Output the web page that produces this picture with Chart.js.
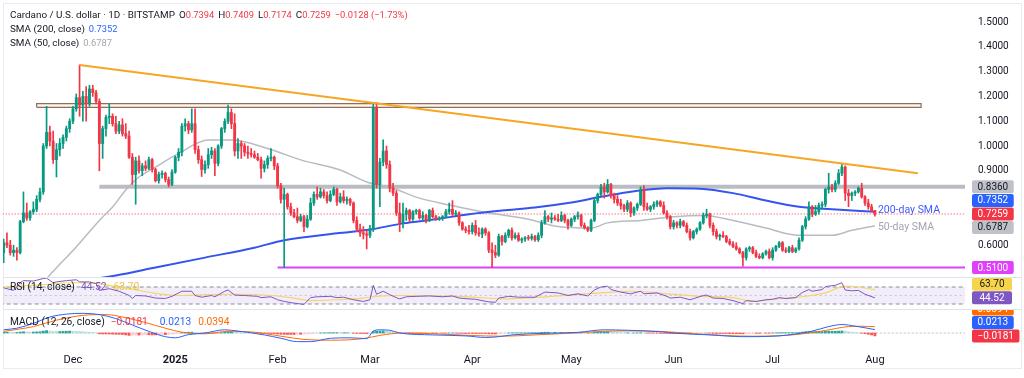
<!DOCTYPE html>
<html><head><meta charset="utf-8">
<script src="https://cdn.jsdelivr.net/npm/chart.js@4.4.1/dist/chart.umd.min.js"></script>
<style>
html,body{margin:0;padding:0;background:#fff;}
#wrap{position:relative;width:1024px;height:378px;overflow:hidden;background:#fff;font-family:Roboto,'Noto Sans',sans-serif;color:#131722;}
canvas{position:absolute;left:0;}
.lg{position:absolute;font-size:9.9px;white-space:nowrap;line-height:12px;}
.lg span{margin-left:4px;}
.lg .n{font-size:9.3px;}
.sep{position:absolute;left:3px;width:1018px;height:1px;background:#e0e3eb;}
.frame{position:absolute;left:3px;top:3px;width:1017px;height:364px;border:1px solid #e9ebf0;}
</style></head><body>
<div id="wrap">
  <div class="frame"></div>
  <canvas id="cPrice" width="1024" height="277" style="top:0"></canvas>
  <canvas id="cRsi" width="1024" height="32" style="top:277px"></canvas>
  <canvas id="cMacd" width="1024" height="69" style="top:309px"></canvas>
  <div class="sep" style="top:277px"></div>
  <div class="sep" style="top:309px"></div>
  <div class="lg" id="lg1" style="left:10px;top:9px"></div>
  <div class="lg" id="lg2" style="left:10px;top:23px"></div>
  <div class="lg" id="lg3" style="left:10px;top:37px"></div>
  <div class="lg" id="lgRsi" style="left:10px;top:281px;font-size:10.2px"></div>
  <div class="lg" id="lgMacd" style="left:10px;top:316px;font-size:10.2px"></div>
</div>
<script>
// ---------------- DATA ----------------
// day index: 0 = 2024-12-01 ; first candle = 2024-11-10
const firstDay = -21;
const opens = [
.570,.610,.600,.570,.580,.570,.695,.730,.710,.735,
.745,.785,.815,1.000,1.055,1.020,.945,.985,1.010,1.035,
1.070,1.100,1.150,1.195,1.165,1.200,1.170,1.230,1.215,1.180,
1.010,1.070,1.115,1.120,1.090,1.060,1.085,1.050,1.040,.955,
.885,.940,.900,.920,.910,.945,.905,.860,.885,.890,
.865,.845,.895,.955,.975,1.080,1.090,1.065,1.090,.985,
.945,.905,.925,.965,.980,.930,1.000,1.070,1.100,1.135,
1.090,.980,1.010,1.000,.975,.970,.965,.955,.945,.910,
.925,.950,.955,.920,.840,.785,.805,.755,.730,.715,
.700,.715,.675,.705,.770,.805,.795,.815,.800,.780,
.805,.825,.775,.795,.780,.785,.770,.700,.665,.650,
.645,.640,.665,1.155,.845,.935,.980,.925,.830,.810,
.730,.690,.725,.740,.705,.735,.740,.710,.720,.700,
.740,.715,.705,.710,.715,.735,.745,.725,.730,.690,
.665,.660,.655,.680,.650,.645,.665,.650,.580,.570,
.560,.635,.615,.640,.660,.630,.640,.620,.625,.630,
.628,.635,.622,.640,.690,.715,.705,.710,.705,.700,
.720,.700,.680,.705,.715,.720,.680,.670,.660,.700,
.780,.805,.835,.815,.845,.800,.785,.770,.760,.745,
.770,.730,.750,.765,.825,.755,.745,.755,.765,.775,
.760,.730,.715,.675,.690,.680,.695,.680,.655,.630,
.655,.665,.690,.720,.725,.680,.655,.635,.640,.635,
.615,.605,.595,.585,.570,.550,.585,.590,.570,.555,
.550,.565,.575,.550,.580,.595,.610,.580,.575,.590,
.575,.585,.620,.675,.705,.755,.725,.735,.760,.765,
.825,.835,.825,.850,.890,.915,.810,.800,.810,.815,
.830,.795,.770,.755,.7394];
const highs = [
.625,.650,.620,.600,.590,.700,.815,.770,.740,.775,
.800,.830,1.010,1.160,1.080,1.060,1.010,1.030,1.045,1.080,
1.110,1.160,1.210,1.327,1.220,1.240,1.245,1.245,1.225,1.190,
1.080,1.125,1.170,1.130,1.120,1.100,1.110,1.090,1.060,.970,
.955,.960,.930,.940,.955,.950,.910,.895,.900,.895,
.875,.905,.960,.990,1.090,1.110,1.100,1.150,1.150,1.000,
.960,.940,.990,.995,.990,1.005,1.075,1.110,1.165,1.150,
1.130,1.030,1.020,1.010,1.000,.990,.980,.970,.955,.940,
.960,.990,.960,.930,.850,.830,.810,.770,.745,.750,
.725,.720,.720,.790,.815,.835,.830,.825,.815,.820,
.835,.830,.810,.820,.795,.790,.775,.715,.685,.675,
.660,.680,1.175,1.175,.950,1.025,1.000,.940,.850,.820,
.770,.770,.750,.745,.740,.745,.745,.735,.725,.745,
.750,.720,.715,.720,.745,.770,.780,.740,.735,.695,
.675,.680,.690,.700,.670,.670,.670,.655,.610,.600,
.645,.640,.650,.665,.670,.650,.650,.630,.635,.640,
.645,.640,.650,.700,.740,.720,.730,.720,.725,.735,
.725,.705,.710,.720,.735,.725,.690,.675,.705,.790,
.810,.845,.850,.865,.850,.810,.800,.785,.765,.780,
.775,.755,.770,.835,.840,.770,.760,.775,.780,.780,
.775,.740,.720,.700,.695,.705,.700,.690,.665,.660,
.670,.695,.730,.745,.730,.690,.665,.645,.655,.640,
.625,.615,.610,.590,.575,.590,.595,.595,.580,.565,
.570,.580,.585,.590,.600,.615,.615,.590,.595,.600,
.590,.630,.680,.715,.775,.760,.760,.770,.775,.830,
.890,.845,.860,.905,.930,.920,.825,.815,.820,.835,
.850,.800,.785,.765,.7409];
const lows = [
.530,.590,.560,.555,.540,.565,.690,.700,.700,.725,
.735,.775,.805,.990,1.000,.930,.875,.960,.990,1.020,
1.055,1.090,1.140,1.120,1.100,1.100,1.160,1.200,1.170,.900,
.950,1.040,1.090,1.080,1.050,1.050,1.040,1.030,.950,.845,
.765,.890,.880,.900,.905,.895,.855,.850,.870,.855,
.835,.840,.890,.940,.960,1.060,1.050,1.055,.970,.930,
.877,.890,.910,.950,.880,.920,.990,1.055,1.090,1.070,
.960,.950,.950,.960,.950,.955,.950,.940,.870,.895,
.910,.940,.905,.830,.770,.510,.745,.720,.710,.690,
.695,.655,.670,.700,.760,.785,.790,.790,.770,.775,
.800,.760,.770,.770,.765,.760,.690,.655,.635,.625,
.585,.630,.655,.830,.755,.920,.910,.815,.800,.720,
.655,.670,.700,.695,.700,.725,.705,.700,.690,.695,
.710,.700,.700,.700,.710,.725,.720,.720,.680,.660,
.650,.645,.645,.640,.635,.630,.640,.570,.510,.550,
.555,.600,.610,.630,.620,.625,.615,.610,.615,.620,
.620,.615,.615,.630,.685,.695,.690,.700,.695,.695,
.690,.665,.675,.695,.705,.675,.665,.655,.655,.695,
.770,.800,.790,.810,.790,.770,.760,.745,.735,.735,
.715,.720,.740,.760,.740,.740,.735,.745,.755,.755,
.725,.705,.665,.665,.670,.670,.675,.650,.620,.625,
.645,.660,.685,.710,.670,.640,.625,.620,.630,.610,
.600,.590,.580,.565,.515,.540,.575,.565,.550,.545,
.545,.560,.545,.540,.575,.590,.575,.570,.570,.570,
.570,.580,.615,.665,.700,.715,.720,.725,.745,.755,
.810,.815,.815,.845,.880,.780,.755,.780,.800,.810,
.790,.760,.745,.735,.7174];
const closes = [
.610,.600,.570,.580,.570,.695,.730,.710,.735,.745,
.785,.815,1.000,1.055,1.020,.945,.985,1.010,1.035,1.070,
1.100,1.150,1.195,1.165,1.200,1.170,1.230,1.215,1.180,1.010,
1.070,1.115,1.120,1.090,1.060,1.085,1.050,1.040,.955,.885,
.940,.900,.920,.910,.945,.905,.860,.885,.890,.865,
.845,.895,.955,.975,1.080,1.090,1.065,1.090,.985,.945,
.905,.925,.965,.980,.930,1.000,1.070,1.100,1.135,1.090,
.980,1.010,1.000,.975,.970,.965,.955,.945,.910,.925,
.950,.955,.920,.840,.785,.805,.755,.730,.715,.700,
.715,.675,.705,.770,.805,.795,.815,.800,.780,.805,
.825,.775,.795,.780,.785,.770,.700,.665,.650,.645,
.640,.665,1.155,.845,.935,.980,.925,.830,.810,.730,
.690,.725,.740,.705,.735,.740,.710,.720,.700,.740,
.715,.705,.710,.715,.735,.745,.725,.730,.690,.665,
.660,.655,.680,.650,.645,.665,.650,.580,.570,.560,
.635,.615,.640,.660,.630,.640,.620,.625,.630,.628,
.635,.622,.640,.690,.715,.705,.710,.705,.700,.720,
.700,.680,.705,.715,.720,.680,.670,.660,.700,.780,
.805,.835,.815,.845,.800,.785,.770,.760,.745,.770,
.730,.750,.765,.825,.755,.745,.755,.765,.775,.760,
.730,.715,.675,.690,.680,.695,.680,.655,.630,.655,
.665,.690,.720,.725,.680,.655,.635,.640,.635,.615,
.605,.595,.585,.570,.550,.585,.590,.570,.555,.550,
.565,.575,.550,.580,.595,.610,.580,.575,.590,.575,
.585,.620,.675,.705,.755,.725,.735,.760,.765,.825,
.835,.825,.850,.890,.915,.810,.800,.810,.815,.830,
.795,.770,.755,.7387,.7259];
// MACD histogram, in thousandths, one per candle
const macdHist = [
4,5,4,3,3,6,8,7,6,6,7,8,
12,15,13,10,9,9,10,11,12,
11,10,9,8,6,5,4,2,-5,-6,-6,-6,-7,-8,-8,-9,-12,-15,-14,-13,-13,-12,-11,-11,-12,-12,-11,-10,-10,-9,-7,
-4,-2,2,4,5,5,3,1,0,0,1,1,-1,0,2,4,6,7,6,4,3,2,1,0,-1,-1,-3,-3,-3,-3,-4,
-6,-8,-9,-9,-9,-9,-8,-8,-7,-6,-4,-2,-1,0,1,1,2,2,2,1,1,1,0,-1,-2,-3,-3,-4,
-3,10,12,12,13,12,10,8,5,2,0,-1,-2,-3,-3,-3,-3,-3,-2,-2,-2,-1,-1,-1,0,0,-1,-2,-2,-3,-3,
-3,-3,-3,-3,-3,-5,-6,-6,-3,-2,-1,0,1,1,1,1,1,1,2,2,2,4,5,5,4,4,3,3,2,1,
1,1,1,1,0,-1,0,4,6,8,8,8,7,5,3,2,1,1,0,0,0,1,0,-1,-1,-1,-1,-2,-2,-3,-4,
-4,-4,-4,-4,-4,-5,-4,-3,-2,-1,0,-1,-2,-3,-3,-3,-3,-4,-4,-4,-4,-5,-4,-3,-2,-2,-2,-1,-1,-1,
0,1,2,2,2,2,2,2,3,6,8,9,9,9,9,9,10,11,11,11,12,13,12,8,5,3,1,-1,-4,-8,-12,-18.1];
// moving averages and oscillators: [day, value]
const sma200Pts = [[-21,.420],[0,.452],[13,.478],[25,.510],[40,.550],[55,.590],[64,.620],[80,.648],[90,.663],[100,.688],[110,.705],[120,.725],[130,.740],[140,.752],[150,.770],[160,.795],[170,.818],[180,.830],[190,.828],[200,.810],[210,.780],[220,.755],[230,.745],[243,.7352]];
const sma50Pts = [[-12,.400],[-7,.480],[1,.593],[8,.700],[12,.754],[16,.823],[20,.875],[25,.915],[32,.970],[41,1.024],[48,1.024],[59,.990],[69,.944],[81,.903],[89,.855],[97,.830],[104,.794],[114,.762],[124,.735],[138,.705],[147,.675],[157,.669],[162,.690],[172,.700],[182,.715],[191,.720],[200,.700],[210,.669],[220,.640],[230,.640],[236,.660],[243,.6787]];
const rsiPts = [[-21,68],[-18,62],[-16,80],[-15,85],[-12,84],[-9,90],[-8,91],[-6,80],[-5,82],[-2,85],[1,87],[2,82],[5,82],[7,78],[8,62],[11,66],[14,60],[17,50],[18,43],[19,50],[22,49],[25,44],[28,43],[30,48],[33,60],[36,60],[37,50],[39,46],[42,50],[43,47],[46,60],[47,63],[49,51],[52,50],[56,48],[57,45],[60,47],[62,40],[64,36],[67,32],[70,29],[72,45],[74,47],[78,48],[80,45],[82,46],[85,40],[88,36],[90,40],[91,74],[92,53],[94,60],[96,52],[98,45],[99,42],[101,47],[104,48],[108,49],[112,47],[115,49],[117,44],[120,42],[122,41],[126,35],[128,34],[129,44],[132,48],[135,46],[140,46],[142,54],[143,58],[147,56],[150,50],[153,54],[156,49],[158,63],[160,70],[162,72],[163,64],[166,58],[169,54],[172,60],[173,54],[177,56],[180,48],[181,44],[184,46],[187,40],[191,50],[192,51],[194,44],[197,43],[200,38],[203,31],[204,38],[207,36],[210,40],[212,41],[214,45],[216,43],[219,45],[221,57],[223,64],[224,60],[227,64],[228,71],[229,72],[231,74],[233,80],[234,63],[236,61],[238,62],[240,53],[243,44.52]];
const rsiMaPts = [[-21,70],[-10,75],[0,80],[8,78],[12,72],[18,65],[25,55],[32,50],[40,52],[50,53],[60,50],[66,45],[72,38],[80,40],[88,44],[92,48],[100,50],[110,49],[120,47],[130,42],[140,45],[150,51],[160,56],[170,60],[180,54],[190,48],[200,45],[206,36],[212,41],[220,46],[228,56],[234,72],[238,70],[243,63.70]];
const macdPts = [[-21,.020],[-17,.030],[-12,.060],[-7,.100],[-2,.118],[3,.123],[8,.115],[13,.090],[18,.050],[23,.010],[28,-.023],[31,-.030],[35,-.010],[40,.000],[46,.020],[50,.012],[58,-.012],[63,-.033],[68,-.054],[72,-.054],[78,-.033],[84,-.030],[89,-.035],[91,.012],[93,.020],[96,.017],[99,.000],[109,-.012],[119,-.018],[125,-.028],[129,-.023],[133,-.012],[143,-.002],[153,.004],[161,.020],[168,.017],[178,.008],[183,-.002],[193,-.012],[203,-.023],[214,-.018],[219,-.006],[224,.012],[229,.040],[233,.053],[237,.043],[243,.0213]];
const signalPts = [[-21,.010],[-12,.040],[-5,.080],[3,.110],[10,.115],[15,.100],[22,.065],[28,.030],[33,.005],[40,-.005],[47,.010],[55,.005],[63,-.020],[70,-.040],[78,-.045],[88,-.035],[93,-.015],[100,.000],[110,-.005],[120,-.015],[130,-.020],[140,-.012],[150,-.002],[160,.010],[168,.013],[178,.010],[188,-.004],[198,-.016],[206,-.020],[214,-.017],[220,-.008],[228,.016],[235,.040],[239,.042],[243,.0394]];
const monthTicks = [0,31,62,90,121,151,182,212,243];
const monthLabels = ['Dec','2025','Feb','Mar','Apr','May','Jun','Jul','Aug'];
const priceTicks = [1.5,1.4,1.3,1.2,1.1,1.0,0.9,0.8,0.7,0.6,0.5];
const trendLine = [[2,1.327],[256,0.890]];
const zoneX = [-11,257], zoneY = [1.156,1.171];
const supportLevel = 0.836, supportFrom = 8;
const floorLevel = 0.51, floorFrom = 62;

// ---------------- HELPERS ----------------
const X_MIN = -21.2, X_MAX = 270.3;
const GREEN = '#089981', RED = '#f23645', BLUE = '#2962ff';
const days = opens.map((_, i) => firstDay + i);
const last = closes.length - 1;
const pts = a => a.map(([x, y]) => ({x, y}));
const hl = (v, a, b) => [{x: a, y: v}, {x: b, y: v}];
const upDown = i => closes[i] >= opens[i] ? GREEN : RED;
const minus = s => s.replace('-', '\u2212');
const lastOf = a => a[a.length - 1][1];
Chart.defaults.font.family = 'Roboto';
const FIX_W = s => { s.width = 59; s.paddingTop = 0; s.paddingBottom = 0; };

const boxLabels = {
  id: 'boxLabels',
  afterDraw(chart, args, opts) {
    const ys = chart.scales.y;
    const items = (opts.items || []).map(it => Object.assign({}, it, {py: ys.getPixelForValue(it.value)}));
    items.sort((a, b) => a.py - b.py);
    const h = opts.h || 13, gap = h + 0.5;
    const fi = Math.max(0, items.findIndex(it => it.fixed));
    for (let i = fi - 1; i >= 0; i--) items[i].py = Math.min(items[i].py, items[i + 1].py - gap);
    for (let i = fi + 1; i < items.length; i++) items[i].py = Math.max(items[i].py, items[i - 1].py + gap);
    const ctx = chart.ctx; ctx.save();
    ctx.font = '10px Roboto'; ctx.textBaseline = 'middle'; ctx.textAlign = 'left';
    items.forEach(it => {
      const w = Math.max(40, ctx.measureText(it.text).width + 11);
      ctx.fillStyle = it.bg; ctx.beginPath();
      if (ctx.roundRect) ctx.roundRect(972, it.py - h / 2, w, h, 2); else ctx.rect(972, it.py - h / 2, w, h);
      ctx.fill();
      ctx.fillStyle = it.fg; ctx.fillText(it.text, 972 + (w - ctx.measureText(it.text).width) / 2, it.py + 0.5);
    });
    (opts.texts || []).forEach(t => {
      ctx.font = '10.5px Roboto'; ctx.fillStyle = t.color;
      ctx.fillText(t.text, chart.scales.x.getPixelForValue(t.x) + 3, ys.getPixelForValue(t.value) + (t.dy || 0));
    });
    ctx.restore();
  }
};
Chart.register(boxLabels);

const base = (padTop) => ({
  responsive: false, animation: false, events: [], devicePixelRatio: 1,
  layout: {padding: {left: 3, right: 0, top: padTop, bottom: 0}},
  plugins: {legend: {display: false}, tooltip: {enabled: false}}
});
const line = (data, color, width, extra) => Object.assign({type: 'line', data, borderColor: color, borderWidth: width, pointRadius: 0, fill: false, tension: 0}, extra || {});

// ---------------- PRICE PANE ----------------
const s200 = lastOf(sma200Pts), s50 = lastOf(sma50Pts);
const pOpts = base(8);
pOpts.scales = {
  x: {type: 'linear', min: X_MIN, max: X_MAX, display: false, offset: false},
  y: {position: 'right', min: 0.4718, max: 1.5565, afterFit: FIX_W,
      afterBuildTicks: s => { s.ticks = priceTicks.map(v => ({value: v})); },
      grid: {display: false, drawTicks: false}, border: {display: false},
      ticks: {padding: 13, color: '#131722', font: {size: 10},
        callback: v => [supportLevel, s200, closes[last], s50, floorLevel].some(m => Math.abs(m - v) < 0.045) ? '' : v.toFixed(4)}}
};
pOpts.plugins.boxLabels = {
  items: [
    {value: supportLevel, text: supportLevel.toFixed(4), bg: '#bfc1c8', fg: '#131722'},
    {value: s200, text: s200.toFixed(4), bg: BLUE, fg: '#fff'},
    {value: closes[last], text: closes[last].toFixed(4), bg: RED, fg: '#fff', fixed: true},
    {value: s50, text: s50.toFixed(4), bg: '#bfc1c8', fg: '#131722'},
    {value: floorLevel, text: floorLevel.toFixed(4), bg: '#e040fb', fg: '#fff'}
  ],
  texts: [
    {text: '200-day SMA', x: days[last], value: s200, dy: -1, color: '#3d5afe'},
    {text: '50-day SMA', x: days[last], value: s50, dy: 2, color: '#a3a6af'}
  ]
};
new Chart(document.getElementById('cPrice'), {
  type: 'bar',
  data: {datasets: [
    line([{x: zoneX[0], y: zoneY[1]}, {x: zoneX[1], y: zoneY[1]}], 'rgba(0,0,0,0)', 0, {fill: {value: zoneY[0]}, backgroundColor: 'rgba(255,236,205,0.45)', order: 12}),
    line([{x: zoneX[0], y: zoneY[0]}, {x: zoneX[0], y: zoneY[1]}, {x: zoneX[1], y: zoneY[1]}, {x: zoneX[1], y: zoneY[0]}, {x: zoneX[0], y: zoneY[0]}], '#8d6e63', 1.2, {order: 11}),
    line(hl(supportLevel, supportFrom, X_MAX + 1), 'rgba(178,181,190,0.9)', 4, {order: 10}),
    line(hl(floorLevel, floorFrom, X_MAX + 1), '#e040fb', 2, {order: 10}),
    line(hl(closes[last], X_MIN - 1, X_MAX + 1), RED, 1, {borderDash: [1, 2], order: 9}),
    line(pts(sma50Pts), '#b8bbc2', 1.5, {cubicInterpolationMode: 'monotone', order: 6}),
    line(pts(sma200Pts), '#3454f0', 2, {cubicInterpolationMode: 'monotone', order: 5}),
    {type: 'bar', data: days.map((d, i) => ({x: d, y: [lows[i], highs[i]]})), backgroundColor: c => upDown(c.dataIndex), barThickness: 1, grouped: false, order: 4},
    {type: 'bar', data: days.map((d, i) => ({x: d, y: [opens[i], closes[i]]})), backgroundColor: c => upDown(c.dataIndex), barThickness: 2.2, minBarLength: 1, grouped: false, order: 3},
    line(pts(trendLine), '#f5a623', 2, {order: 1})
  ]},
  options: pOpts
});

// ---------------- RSI PANE ----------------
const rsiLast = lastOf(rsiPts), rsiMaLast = lastOf(rsiMaPts);
const rOpts = base(1);
rOpts.scales = {
  x: {type: 'linear', min: X_MIN, max: X_MAX, display: false},
  y: {position: 'right', min: 18.24, max: 91.18, afterFit: FIX_W, ticks: {display: false, padding: 0}, grid: {display: false, drawTicks: false}, border: {display: false}}
};
rOpts.plugins.boxLabels = {items: [
  {value: rsiMaLast, text: rsiMaLast.toFixed(2), bg: '#f7d54a', fg: '#131722'},
  {value: rsiLast, text: rsiLast.toFixed(2), bg: '#7e57c2', fg: '#fff', fixed: true}
]};
new Chart(document.getElementById('cRsi'), {
  type: 'line',
  data: {datasets: [
    line(hl(70, X_MIN - 1, X_MAX + 1), 'rgba(120,123,134,0.85)', 1, {borderDash: [4, 3], fill: '+1', backgroundColor: 'rgba(126,87,194,0.1)', order: 10}),
    line(hl(30, X_MIN - 1, X_MAX + 1), 'rgba(120,123,134,0.85)', 1, {borderDash: [4, 3], order: 10}),
    line(hl(50, X_MIN - 1, X_MAX + 1), 'rgba(120,123,134,0.35)', 1, {borderDash: [2, 3], order: 10}),
    line(pts(rsiMaPts), '#f5d565', 1.2, {cubicInterpolationMode: 'monotone', order: 3}),
    line(pts(rsiPts), '#7e57c2', 1, {order: 2})
  ]},
  options: rOpts
});

// ---------------- MACD PANE ----------------
const macdLast = lastOf(macdPts), sigLast = lastOf(signalPts), histLast = macdHist[last] / 1000;
const mOpts = base(1);
mOpts.scales = {
  x: {type: 'linear', min: X_MIN, max: X_MAX, offset: false,
      afterFit: s => { s.height = 26; s.paddingLeft = 0; s.paddingRight = 0; },
      afterBuildTicks: s => { s.ticks = monthTicks.map(v => ({value: v})); },
      grid: {display: false, drawTicks: false}, border: {display: false},
      ticks: {autoSkip: false, maxRotation: 0, minRotation: 0, padding: 2, color: '#131722',
        font: c => ({size: 11, family: 'Roboto', weight: c.index === 1 ? 'bold' : 'normal'}),
        callback: (v, i) => monthLabels[i]}},
  y: {position: 'right', min: -0.11875, max: 0.14375, afterFit: FIX_W, ticks: {display: false, padding: 0}, grid: {display: false, drawTicks: false}, border: {display: false}}
};
mOpts.plugins.boxLabels = {items: [
  {value: sigLast, text: sigLast.toFixed(4), bg: '#ff6d00', fg: '#fff'},
  {value: macdLast, text: macdLast.toFixed(4), bg: BLUE, fg: '#fff'},
  {value: histLast, text: minus(histLast.toFixed(4)), bg: RED, fg: '#fff', fixed: true}
]};
const histColor = i => {
  const v = macdHist[i], p = i > 0 ? macdHist[i - 1] : v;
  if (v >= 0) return v >= p ? '#26a69a' : '#b2dfdb';
  return v <= p ? '#ff5252' : '#ffcdd2';
};
new Chart(document.getElementById('cMacd'), {
  type: 'bar',
  data: {datasets: [
    line(hl(0, X_MIN - 1, X_MAX + 1), 'rgba(120,123,134,0.5)', 1, {borderDash: [2, 2], order: 10}),
    {type: 'bar', data: days.map((d, i) => ({x: d, y: macdHist[i] / 1000})), backgroundColor: c => histColor(c.dataIndex), barThickness: 2.2, grouped: false, order: 5},
    line(pts(signalPts), '#ff6d00', 1, {cubicInterpolationMode: 'monotone', order: 3}),
    line(pts(macdPts), BLUE, 1, {cubicInterpolationMode: 'monotone', order: 2})
  ]},
  options: mOpts
});

// ---------------- LEGENDS (text) ----------------
const prevClose = closes[last - 1], chg = closes[last] - prevClose;
const R = t => `<span class="n" style="color:${RED};margin-left:0">${t}</span>`;
document.getElementById('lg1').innerHTML =
  `Cardano / U.S. dollar · 1D · BITSTAMP<span>O${R(opens[last].toFixed(4))}</span><span>H${R(highs[last].toFixed(4))}</span><span>L${R(lows[last].toFixed(4))}</span><span>C${R(closes[last].toFixed(4))}</span><span class="n" style="color:${RED}">${minus(chg.toFixed(4))} (${minus((chg / prevClose * 100).toFixed(2))}%)</span>`;
document.getElementById('lg2').innerHTML = `SMA (200, close)<span class="n" style="color:${BLUE}">${s200.toFixed(4)}</span>`;
document.getElementById('lg3').innerHTML = `SMA (50, close)<span class="n" style="color:#a3a6af">${s50.toFixed(4)}</span>`;
document.getElementById('lgRsi').innerHTML = `RSI (14, close)<span style="color:#7e57c2;margin-left:6px">${rsiLast.toFixed(2)}</span><span style="color:#e8c13a;margin-left:7px">${rsiMaLast.toFixed(2)}</span>`;
document.getElementById('lgMacd').innerHTML = `MACD (12, 26, close)<span style="color:${RED};margin-left:6px">${minus(histLast.toFixed(4))}</span><span style="color:${BLUE};margin-left:12px">${macdLast.toFixed(4)}</span><span style="color:#ff6d00;margin-left:7px">${sigLast.toFixed(4)}</span>`;
</script>
</body></html>
